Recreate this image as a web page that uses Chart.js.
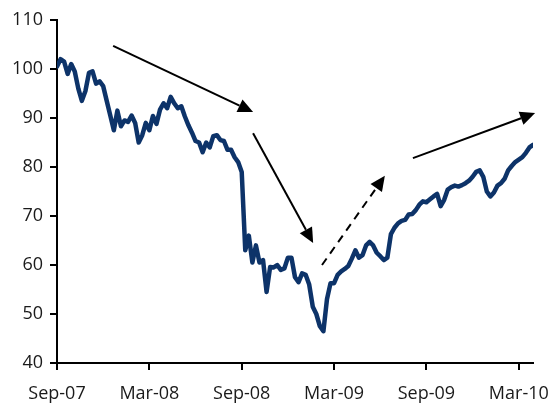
<!DOCTYPE html>
<html lang="en">
<head>
<meta charset="UTF-8">
<title>Index since Sep-07</title>
<script src="https://cdn.jsdelivr.net/npm/chart.js"></script>
<style>
  html, body { margin: 0; padding: 0; background: #fff; }
  #wrap { width: 551px; height: 403px; }
</style>
</head>
<body>
<div id="wrap"><canvas id="indexChart"></canvas></div>
<script>
// Weekly index level, first value = first week of Sep-07
const weeklyValues = [
  100.5, 102, 101.5, 99, 101, 99.5, 96, 93.5, 95.5, 99.2,
  99.5, 97, 97.5, 96.5, 93.5, 90.5, 87.5, 91.5, 88.3, 89.5,
  89.2, 90.5, 89, 85, 86.5, 89, 87.5, 90.4, 88.8, 91.7,
  93, 92, 94.3, 93, 92, 92.4, 90.3, 88.5, 87, 85.3,
  85, 83, 85, 84, 86.3, 86.5, 85.5, 85.3, 83.5, 83.5,
  82, 81, 79, 63, 66, 60.5, 64, 60.5, 61, 54.5,
  59.6, 59.5, 60, 59, 59.3, 61.5, 61.5, 57.5, 56.5, 58.3,
  58, 56, 51.5, 50, 47.5, 46.5, 53, 56.3, 56.3, 58,
  58.7, 59.2, 59.8, 61.3, 63, 61.5, 62, 64, 64.7, 64,
  62.5, 61.8, 61, 61.5, 66.3, 67.6, 68.5, 69, 69.2, 70.3,
  70.4, 71.2, 72.3, 73, 72.8, 73.4, 74, 74.5, 72, 73.3,
  75.4, 75.9, 76.2, 76, 76.3, 76.7, 77.2, 78, 79, 79.3,
  78, 75, 74, 74.8, 76.2, 76.7, 77.6, 79.3, 80.2, 81,
  81.5, 82, 82.9, 84, 84.5
];

// x axis: weeks since Sep-07, labelled every six months
const tickWeeks = [0, 26, 52, 78, 104, 130];
const tickLabels = ['Sep-07', 'Mar-08', 'Sep-08', 'Mar-09', 'Sep-09', 'Mar-10'];
const yMin = 40;
const yMax = 110;
const yStep = 10;

// trend arrows, in [week, level]
const arrows = [
  { from: [15.8, 104.7], to: [55.2, 91.2], dashed: false },
  { from: [55.2, 86.9], to: [72.1, 64.5], dashed: false },
  { from: [74.6, 60.0], to: [92.3, 78.2], dashed: true },
  { from: [100.2, 81.8], to: [134.6, 91.0], dashed: false }
];

const textFont = { family: '"Open Sans", sans-serif', size: 18 };
const textColor = '#1a1a1a';

const arrowPlugin = {
  id: 'trendArrows',
  afterDatasetsDraw(chart) {
    const { ctx, scales: { x, y } } = chart;
    ctx.save();
    ctx.strokeStyle = '#000';
    ctx.fillStyle = '#000';
    ctx.lineWidth = 2;
    arrows.forEach(a => {
      const x0 = x.getPixelForValue(a.from[0]);
      const y0 = y.getPixelForValue(a.from[1]);
      const x1 = x.getPixelForValue(a.to[0]);
      const y1 = y.getPixelForValue(a.to[1]);
      const ang = Math.atan2(y1 - y0, x1 - x0);
      const headLen = 15;
      const headHalf = 7;
      const bx = x1 - headLen * Math.cos(ang);
      const by = y1 - headLen * Math.sin(ang);
      ctx.setLineDash(a.dashed ? [8, 6] : []);
      ctx.beginPath();
      ctx.moveTo(x0, y0);
      ctx.lineTo(bx, by);
      ctx.stroke();
      ctx.setLineDash([]);
      ctx.beginPath();
      ctx.moveTo(x1, y1);
      ctx.lineTo(bx + headHalf * Math.sin(ang), by - headHalf * Math.cos(ang));
      ctx.lineTo(bx - headHalf * Math.sin(ang), by + headHalf * Math.cos(ang));
      ctx.closePath();
      ctx.fill();
    });
    ctx.restore();
  }
};

const chart = new Chart(document.getElementById('indexChart'), {
  type: 'line',
  data: {
    datasets: [{
      data: weeklyValues.map((v, i) => ({ x: i, y: v })),
      borderColor: '#0d3369',
      borderWidth: 4.5,
      pointRadius: 0,
      tension: 0,
      borderJoinStyle: 'round',
      borderCapStyle: 'round'
    }]
  },
  options: {
    responsive: true,
    maintainAspectRatio: false,
    animation: false,
    layout: { padding: { top: 20, right: 18, left: 0, bottom: 0 } },
    plugins: {
      legend: { display: false },
      tooltip: { enabled: false }
    },
    scales: {
      x: {
        type: 'linear',
        min: 0,
        max: 134,
        afterBuildTicks: s => { s.ticks = tickWeeks.map(v => ({ value: v })); },
        afterFit: s => {
          s.height = 40;
          s.paddingLeft = 0;
          s.paddingRight = 0;
        },
        ticks: {
          callback: (v, i) => tickLabels[i],
          autoSkip: false,
          maxRotation: 0,
          padding: 13,
          font: textFont,
          color: textColor
        },
        grid: { drawOnChartArea: false, tickLength: 7, color: '#000', lineWidth: 2 },
        border: { display: true, color: '#000', width: 2 }
      },
      y: {
        min: yMin,
        max: yMax,
        afterFit: s => {
          s.width = 57;
          s.paddingTop = 0;
          s.paddingBottom = 0;
        },
        ticks: {
          stepSize: yStep,
          padding: 7,
          font: textFont,
          color: textColor
        },
        grid: { drawOnChartArea: false, tickLength: 7, color: '#000', lineWidth: 2 },
        border: { display: true, color: '#000', width: 2 }
      }
    }
  },
  plugins: [arrowPlugin]
});
</script>
</body>
</html>
